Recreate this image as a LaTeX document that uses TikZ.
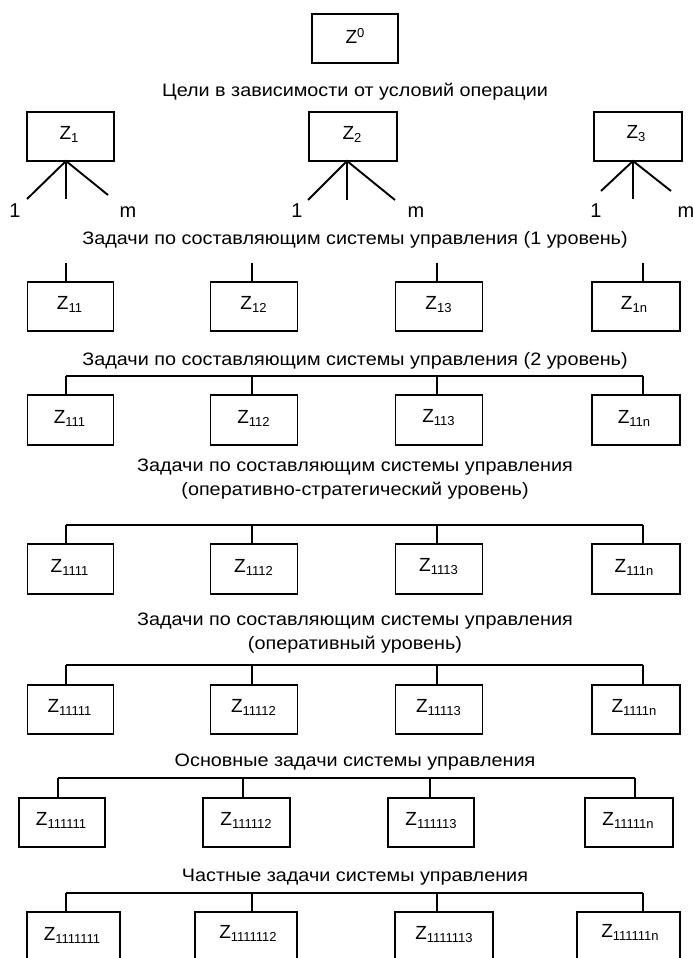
\documentclass[tikz,border=0pt]{standalone}
\usepackage{fontspec}
\setmainfont{Liberation Sans}
\newcommand{\zsub}[1]{Z\raisebox{-3pt}{\fontsize{13}{13}\selectfont #1}}
\newcommand{\capline}[1]{\scalebox{1.1}[1]{#1}}
\begin{document}
\begin{tikzpicture}[x=1pt,y=-1pt,
  zbox/.style={draw,line width=1.5pt,rectangle,inner sep=0pt,font=\fontsize{19}{19}\selectfont},
  ztxt/.style={font=\fontsize{19}{19}\selectfont,inner sep=0pt},
  captxt/.style={font=\fontsize{18}{24}\selectfont,align=center,inner sep=0pt},
  lbl/.style={font=\fontsize{20}{20}\selectfont,inner sep=0pt,anchor=base},
  fanln/.style={line width=1.9pt},
  thinln/.style={line width=1.1pt},
  link/.style={line width=1.2pt}]
\useasboundingbox (0,0) rectangle (693,958);
\clip (0,0) rectangle (693,958);
% top
\node[zbox,minimum width=86pt,minimum height=49pt] (z0) at (355,38.5) {};
\node[ztxt] (s0) at (355,36) {Z\raisebox{6pt}{\fontsize{13}{13}\selectfont 0}};
\node[captxt] (c0) at (355,92) {\capline{Цели в зависимости от условий операции}};
\node[zbox,minimum width=87pt,minimum height=49pt] (z1) at (70.5,136.5) {};
\node[zbox,minimum width=88pt,minimum height=49pt] (z2) at (353,136.5) {};
\node[zbox,minimum width=88pt,minimum height=49pt] (z3) at (638,136.5) {};
\node[ztxt] (s1) at (69,134) {\zsub{1}};
\node[ztxt] (s2) at (352,134) {\zsub{2}};
\node[ztxt] (s3) at (636,134) {\zsub{3}};
% fans
\coordinate (a1) at (66,161); \coordinate (a2) at (347,161); \coordinate (a3) at (633,161);
\coordinate (l1) at (27,199); \coordinate (m1) at (66,199); \coordinate (r1) at (108,195);
\coordinate (l2) at (308,200); \coordinate (m2) at (347,200); \coordinate (r2) at (395,200);
\coordinate (l3) at (601,191); \coordinate (m3) at (633,199); \coordinate (r3) at (671,191);
\foreach \i in {1,2,3}{
  \draw[fanln] (l\i) -- (a\i) -- (r\i);
  \draw[thinln] (a\i) -- (m\i);
}
\node[lbl] (o1) at (15,217) {1}; \node[lbl] (n1) at (128,217) {m};
\node[lbl] (o2) at (297,217) {1}; \node[lbl] (n2) at (416,217) {m};
\node[lbl] (o3) at (596,217) {1}; \node[lbl] (n3) at (686,217) {m};
\node[captxt] (c1) at (355,240) {\capline{Задачи по составляющим системы управления (1 уровень)}};
% row 1
\node[zbox,minimum width=86pt,minimum height=49pt] (b11) at (70.5,306.5) {};
\node[zbox,minimum width=87pt,minimum height=49pt] (b12) at (254,306.5) {};
\node[zbox,minimum width=87pt,minimum height=49pt] (b13) at (439,306.5) {};
\node[zbox,minimum width=88pt,minimum height=49pt] (b14) at (636,306.5) {};
\node[ztxt] (s11) at (69.5,304.5) {\zsub{11}};
\node[ztxt] (s12) at (253.5,304.5) {\zsub{12}};
\node[ztxt] (s13) at (438.5,304.5) {\zsub{13}};
\node[ztxt] (s14) at (634,304.5) {\zsub{1n}};
\foreach \x [count=\k] in {66,252,437,643}{
  \coordinate (t1\k) at (\x,263);
  \draw[link] (t1\k) -- (t1\k |- b1\k.north);
}
% row 2
\node[captxt] (c2) at (355,361) {\capline{Задачи по составляющим системы управления (2 уровень)}};
\node[zbox,minimum width=86pt,minimum height=50pt] (b21) at (70.5,420) {};
\node[zbox,minimum width=87pt,minimum height=50pt] (b22) at (254,420) {};
\node[zbox,minimum width=87pt,minimum height=50pt] (b23) at (439,420) {};
\node[zbox,minimum width=88pt,minimum height=50pt] (b24) at (636,420) {};
\node[ztxt] (s21) at (69.5,418) {\zsub{111}};
\node[ztxt] (s22) at (253.5,418) {\zsub{112}};
\node[ztxt] (s23) at (438.5,418) {\zsub{113}};
\node[ztxt] (s24) at (634,418) {\zsub{11n}};
\coordinate (h2a) at (66,376); \coordinate (h2b) at (643,376);
\draw[link] (h2a) -- (h2b);
\foreach \x [count=\k] in {66,252,437,643}{
  \coordinate (t2\k) at (\x,376);
  \draw[link] (t2\k) -- (t2\k |- b2\k.north);
}
% row 3
\node[captxt] (c3) at (355,479) {\capline{Задачи по составляющим системы управления}\\\capline{(оперативно-стратегический уровень)}};
\node[zbox,minimum width=86pt,minimum height=50pt] (b31) at (70.5,569) {};
\node[zbox,minimum width=87pt,minimum height=50pt] (b32) at (254,569) {};
\node[zbox,minimum width=87pt,minimum height=50pt] (b33) at (439,569) {};
\node[zbox,minimum width=88pt,minimum height=50pt] (b34) at (636,569) {};
\node[ztxt] (s31) at (69.5,567) {\zsub{1111}};
\node[ztxt] (s32) at (253.5,567) {\zsub{1112}};
\node[ztxt] (s33) at (438.5,567) {\zsub{1113}};
\node[ztxt] (s34) at (634,567) {\zsub{111n}};
\coordinate (h3a) at (66,525); \coordinate (h3b) at (643,525);
\draw[link] (h3a) -- (h3b);
\foreach \x [count=\k] in {66,252,437,643}{
  \coordinate (t3\k) at (\x,525);
  \draw[link] (t3\k) -- (t3\k |- b3\k.north);
}
% row 4
\node[captxt] (c4) at (355,633) {\capline{Задачи по составляющим системы управления}\\\capline{(оперативный уровень)}};
\node[zbox,minimum width=86pt,minimum height=49pt] (b41) at (70.5,709.5) {};
\node[zbox,minimum width=87pt,minimum height=49pt] (b42) at (254,709.5) {};
\node[zbox,minimum width=87pt,minimum height=49pt] (b43) at (439,709.5) {};
\node[zbox,minimum width=88pt,minimum height=49pt] (b44) at (636,709.5) {};
\node[ztxt] (s41) at (69.5,707.5) {\zsub{11111}};
\node[ztxt] (s42) at (253.5,707.5) {\zsub{11112}};
\node[ztxt] (s43) at (438.5,707.5) {\zsub{11113}};
\node[ztxt] (s44) at (634,707.5) {\zsub{1111n}};
\coordinate (h4a) at (66,665); \coordinate (h4b) at (643,665);
\draw[link] (h4a) -- (h4b);
\foreach \x [count=\k] in {66,252,437,643}{
  \coordinate (t4\k) at (\x,665);
  \draw[link] (t4\k) -- (t4\k |- b4\k.north);
}
% row 5
\node[captxt] (c5) at (355,762) {\capline{Основные задачи системы управления}};
\node[zbox,minimum width=86pt,minimum height=49pt] (b51) at (62,822.5) {};
\node[zbox,minimum width=87pt,minimum height=49pt] (b52) at (246.5,822.5) {};
\node[zbox,minimum width=86pt,minimum height=49pt] (b53) at (431,822.5) {};
\node[zbox,minimum width=88pt,minimum height=49pt] (b54) at (629,822.5) {};
\node[ztxt] (s51) at (61,820.5) {\zsub{111111}};
\node[ztxt] (s52) at (246,820.5) {\zsub{111112}};
\node[ztxt] (s53) at (431,820.5) {\zsub{111113}};
\node[ztxt] (s54) at (628,820.5) {\zsub{11111n}};
\coordinate (h5a) at (58,778); \coordinate (h5b) at (635,778);
\draw[link] (h5a) -- (h5b);
\foreach \x [count=\k] in {58,243,430,635}{
  \coordinate (t5\k) at (\x,778);
  \draw[link] (t5\k) -- (t5\k |- b5\k.north);
}
% row 6
\node[captxt] (c6) at (355,877) {\capline{Частные задачи системы управления}};
\node[zbox,minimum width=93pt,minimum height=60pt] (b61) at (73.5,942) {};
\node[zbox,minimum width=102pt,minimum height=60pt] (b62) at (246,942) {};
\node[zbox,minimum width=98pt,minimum height=60pt] (b63) at (444,942) {};
\node[zbox,minimum width=103pt,minimum height=60pt] (b64) at (628.5,942) {};
\node[ztxt] (s61) at (72,935) {\zsub{1111111}};
\node[ztxt] (s62) at (248,933) {\zsub{1111112}};
\node[ztxt] (s63) at (444,935) {\zsub{1111113}};
\node[ztxt] (s64) at (630,932) {\zsub{111111n}};
\coordinate (h6a) at (66,893); \coordinate (h6b) at (643,893);
\draw[link] (h6a) -- (h6b);
\foreach \x [count=\k] in {66,252,437,643}{
  \coordinate (t6\k) at (\x,893);
  \draw[link] (t6\k) -- (t6\k |- b6\k.north);
}
\end{tikzpicture}
\end{document}
